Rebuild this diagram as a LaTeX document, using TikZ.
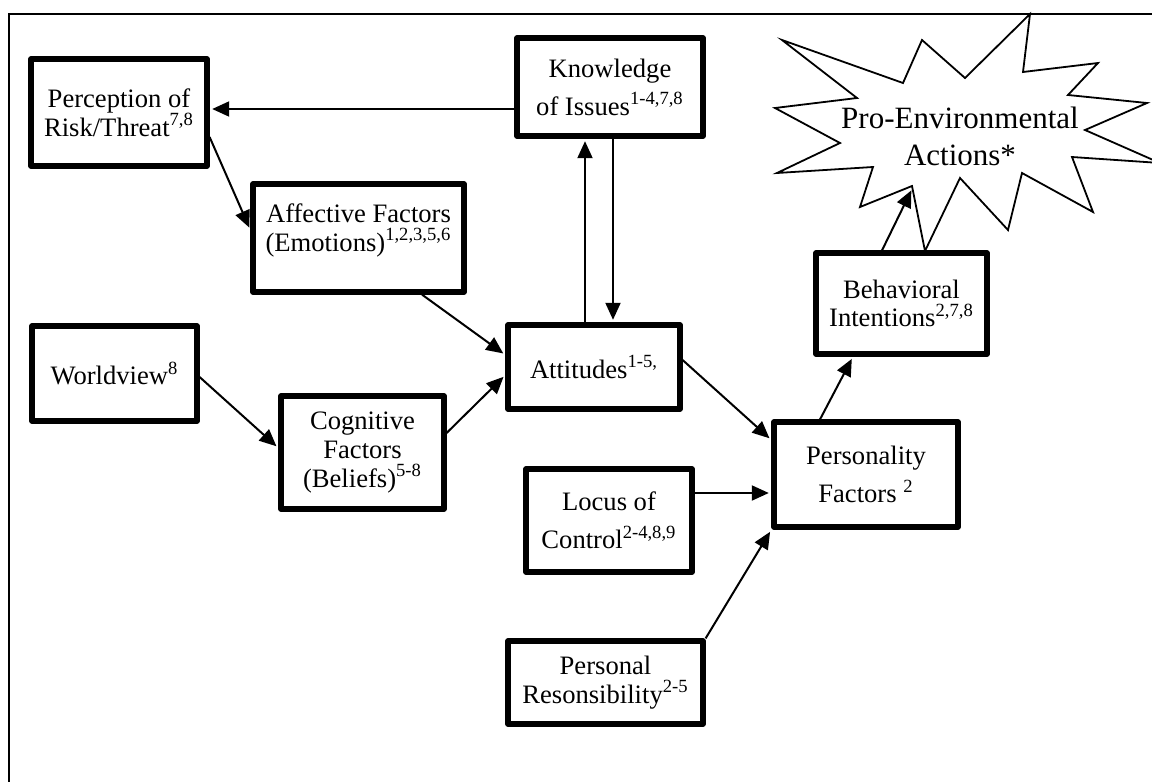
\documentclass[tikz,border=0pt]{standalone}
\usepackage{fontspec}
\setmainfont{Liberation Serif}
\usetikzlibrary{arrows.meta}

\begin{document}
\begin{tikzpicture}[x=0.5pt, y=-0.5pt,
  factor/.style={draw, line width=2.6pt, line join=round, align=center,
    inner sep=1pt, font=\fontsize{13.3}{14.3}\selectfont},
  link/.style={line width=1pt, shorten >=1.3pt,
    -{Triangle[length=8.5pt,width=7.5pt]}}]
  \useasboundingbox (0,0) rectangle (1152,782);

  % Marco
  \draw[line width=1pt] (9,782) -- (9,14) -- (1152,14);

  % Estrella
  \draw[line width=0.9pt, line join=miter]
    (1030,14) -- (1023,72) -- (1098,63) -- (1068,95) -- (1147,103)
    -- (1085,130) -- (1160,163) -- (1072,157) -- (1093,212) -- (1022,173)
    -- (1008,230) -- (960,178) -- (925,251) -- (912,186) -- (860,207)
    -- (873,167) -- (777,173) -- (840,143) -- (775,108) -- (857,98)
    -- (782,40) -- (903,83) -- (922,40) -- (965,78) -- cycle;
  \node[align=center, font=\fontsize{15.5}{18.5}\selectfont] (star) at (960,136)
    {Pro-Environmental\\Actions*};
  \coordinate (starin) at (912.5,188);

  % Nodos
  \node[factor, minimum width=88pt, minimum height=53.5pt] (perc) at (119,112.5)
    {Perception of\\Risk/Threat\textsuperscript{7,8}};
  \node[factor, minimum width=93pt, minimum height=49pt] (know) at (610,87)
    {Knowledge\\[4.7pt]of Issues\textsuperscript{1-4,7,8}};
  \node[factor, minimum width=105.5pt, minimum height=54pt] (aff) at (358.5,238)
    {Affective Factors\\(Emotions)\textsuperscript{1,2,3,5,6}\\[-4pt]};
  \node[factor, minimum width=82.5pt, minimum height=47.5pt] (world) at (114.5,373.5)
    {Worldview\textsuperscript{8}};
  \node[factor, minimum width=81.5pt, minimum height=56.5pt] (cog) at (362.5,452.5)
    {Cognitive\\Factors\\(Beliefs)\textsuperscript{5-8}};
  \node[factor, minimum width=86pt, minimum height=42pt] (att) at (594,367)
    {Attitudes\textsuperscript{1-5,}};
  \node[factor, minimum width=92pt, minimum height=52.5pt] (pers) at (866,474.5)
    {Personality\\[4.7pt]Factors \textsuperscript{2}};
  \node[factor, minimum width=83pt, minimum height=51.5pt] (locus) at (609,520.5)
    {Locus of\\[4.7pt]Control\textsuperscript{2-4,8,9}};
  \node[factor, minimum width=97.5pt, minimum height=41.5pt] (resp) at (605.5,682.5)
    {Personal\\Resonsibility\textsuperscript{2-5}};
  \node[factor, minimum width=85.5pt, minimum height=50.5pt] (beh) at (901.5,303.5)
    {Behavioral\\Intentions\textsuperscript{2,7,8}};

  \draw[link] ([yshift=-11pt]know.west) -- ([yshift=1.75pt]perc.east);
  \draw[link] ([yshift=-12.25pt]perc.east) -- ([yshift=4pt]aff.west);
  \draw[link] ([xshift=31.75pt]aff.south) -- ([yshift=6pt]att.west);
  \draw[link] ([yshift=-1.75pt]world.east) -- ([yshift=2.25pt]cog.west);
  \draw[link] ([yshift=9.75pt]cog.east) -- ([yshift=-4pt]att.west);
  \draw[link] ([xshift=-4.5pt]att.north) -- ([xshift=-12.5pt]know.south);
  \draw[link] ([xshift=1.5pt]know.south) -- ([xshift=9.5pt]att.north);
  \draw[link] ([yshift=3.5pt]att.east) -- ([yshift=17.25pt]pers.west);
  \draw[link] ([yshift=13.75pt]locus.east) -- ([yshift=-9.25pt]pers.west);
  \draw[link] (resp.north east) -- (pers.south west);
  \draw[link] ([xshift=-23pt]pers.north) -- ([xshift=-24.25pt]beh.south);
  \draw[link] ([xshift=-9.75pt]beh.north) -- (starin);
\end{tikzpicture}
\end{document}
